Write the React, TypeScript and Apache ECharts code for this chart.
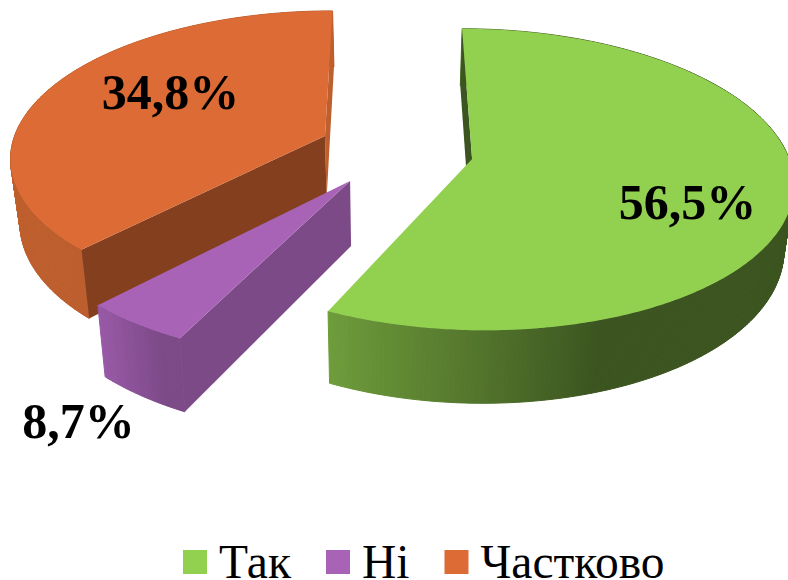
import React, { useEffect, useRef } from "react";
import * as echarts from "echarts";

const categories = ["Так", "Ні", "Частково"];
const shares = [56.5, 8.7, 34.8];
const topColors = ["#92D050", "#A963B6", "#DD6B35"];
const startWallColors = ["#3C5520", "#7D4A88", "#843F1F"];
const endWallColors = ["#3C5520", "#7D4A88", "#BE5F2E"];
const rimStops: [number, string][][] = [
  [[0, "#6E9C3B"], [0.59, "#3C5520"], [1, "#3C5520"]],
  [[0, "#9859A6"], [0.75, "#7D4A88"], [1, "#7D4A88"]],
  [[0, "#BE5F2E"], [1, "#B85C2C"]],
];
const labelCentres = [[687.5, 202], [78.5, 421], [170.5, 92]];
const stacking = [3, 2, 1];
const sliceNudgeU = [0, 0.004, -0.02];
const sliceNudgeV = [0, 0.008, 0];
const sliceStartTrim = [0, 1, 0];

// Screen-angle correction of the tilted view (data degrees -> drawn degrees)
const warpIn = [0, 203.4, 234.7, 360];
const warpOut = [0, 205.5, 223.5, 360];

const VIEW = { xv: 389, yh: -925, a: 316, l: 1080, k: 0.136 };
const EXPLODE = 0.24;
const CENTRE = [0.027, -0.022];

const rad = (d: number) => (d * Math.PI) / 180;

function warp(deg: number) {
  for (let i = 1; i < warpIn.length; i++) {
    if (deg <= warpIn[i]) {
      const t = (deg - warpIn[i - 1]) / (warpIn[i] - warpIn[i - 1]);
      return warpOut[i - 1] + t * (warpOut[i] - warpOut[i - 1]);
    }
  }
  return deg;
}

function project(U: number, V: number): [number, number] {
  const z = 1 - VIEW.k * V;
  return [VIEW.xv + (VIEW.a * U) / z, VIEW.yh + VIEW.l / z];
}

// the lower face of the extruded pie, in screen space
function drop(p: number[]): [number, number] {
  return [VIEW.xv + (p[0] - VIEW.xv) * 0.975, p[1] * 1.053 + 55.5];
}

function sliceGeometry(index: number) {
  const total = shares.reduce((a, b) => a + b, 0);
  const before = shares.slice(0, index).reduce((a, b) => a + b, 0);
  const from = (before / total) * 360;
  const to = ((before + shares[index]) / total) * 360;
  const mid = (from + to) / 2;
  const cu = CENTRE[0] + EXPLODE * Math.sin(rad(mid)) + sliceNudgeU[index];
  const cv = CENTRE[1] - EXPLODE * Math.cos(rad(mid)) + sliceNudgeV[index];
  const apex = project(cu, cv);
  const a0 = warp(from) + sliceStartTrim[index];
  const a1 = warp(to);
  const rim: [number, number][] = [];
  const steps = Math.max(12, Math.round((a1 - a0) * 1.5));
  for (let i = 0; i <= steps; i++) {
    const t = rad(a0 + ((a1 - a0) * i) / steps);
    rim.push(project(cu + Math.sin(t), cv - Math.cos(t)));
  }
  // A flat wall shows only if its outward normal faces the camera
  const toEye = [-cu, 1 / VIEW.k - cv];
  const startShows =
    -Math.cos(rad(a0)) * toEye[0] - Math.sin(rad(a0)) * toEye[1] > 0;
  const endShows =
    Math.cos(rad(a1)) * toEye[0] + Math.sin(rad(a1)) * toEye[1] > 0;
  return { apex, apexLow: drop(apex), rim, lower: rim.map(drop), startShows, endShows };
}

function shade(stops: [number, string][], t: number) {
  for (let i = 1; i < stops.length; i++) {
    if (t <= stops[i][0]) {
      const f = (t - stops[i - 1][0]) / (stops[i][0] - stops[i - 1][0] || 1);
      return echarts.color.lerp(f, [stops[i - 1][1], stops[i][1]]);
    }
  }
  return stops[stops.length - 1][1];
}

function renderSlice(index: number) {
  return () => {
    const { apex, apexLow, rim, lower, startShows, endShows } = sliceGeometry(index);
    const poly = (points: number[][], fill: any, edge = false) => ({
      type: "polygon",
      shape: { points },
      style: edge
        ? { fill, stroke: fill, lineWidth: 1 }
        : { fill, stroke: null },
    });
    const xs = rim.map((p) => p[0]);
    const minX = Math.min(...xs);
    const maxX = Math.min(Math.max(...xs), 788);
    const wall: any[] = [];
    for (let i = 0; i < rim.length - 1; i++) {
      const t = Math.max(
        0,
        Math.min(1, ((rim[i][0] + rim[i + 1][0]) / 2 - minX) / (maxX - minX))
      );
      wall.push(
        poly([rim[i], rim[i + 1], lower[i + 1], lower[i]], shade(rimStops[index], t), true)
      );
    }
    const text = shares[index].toFixed(1).replace(".", ",") + "%";
    return {
      type: "group",
      children: [
        ...wall,
        ...(endShows
          ? [poly([rim[rim.length - 1], apex, apexLow, lower[lower.length - 1]], endWallColors[index])]
          : []),
        ...(startShows
          ? [poly([rim[0], apex, apexLow, lower[0]], startWallColors[index])]
          : []),
        poly([apex, ...rim], topColors[index]),
        {
          type: "text",
          z2: 10,
          style: {
            text,
            x: labelCentres[index][0],
            y: labelCentres[index][1],
            fill: "#000",
            font: 'bold 50px "Liberation Serif"',
            textAlign: "center",
            textVerticalAlign: "middle",
          },
        },
      ],
    };
  };
}

export default function App() {
  const ref = useRef<HTMLDivElement>(null);
  useEffect(() => {
    const chart = echarts.init(ref.current!, undefined, { renderer: "svg" });
    chart.setOption({
      animation: false,
      backgroundColor: "#fff",
      legend: {
        data: categories,
        left: 183,
        top: 538,
        padding: 0,
        icon: "rect",
        itemWidth: 24,
        itemHeight: 24,
        itemGap: 35,
        selectedMode: false,
        textStyle: {
          fontFamily: "Liberation Serif",
          fontSize: 47.5,
          lineHeight: 38,
          color: "#000",
          padding: [0, 0, 0, 7],
        },
      },
      series: categories.map((name, i) => ({
        type: "custom",
        name,
        coordinateSystem: "none",
        z: stacking[i],
        silent: true,
        itemStyle: { color: topColors[i] },
        data: [shares[i]],
        renderItem: renderSlice(i),
      })),
    });
    return () => chart.dispose();
  }, []);
  return (
    <div
      ref={ref}
      style={{ position: "fixed", left: 0, top: 0, width: 788, height: 580 }}
    />
  );
}
